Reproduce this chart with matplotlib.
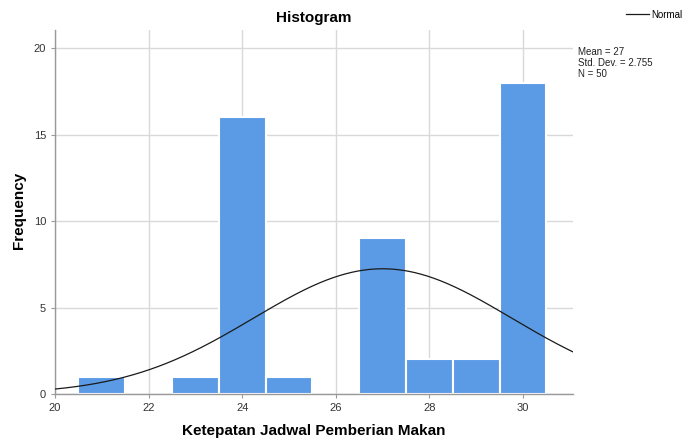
import numpy as np
import matplotlib
matplotlib.use("Agg")
import matplotlib.pyplot as plt

# Data
bin_centers = [21, 23, 24, 25, 27, 28, 29, 30]
frequencies = [1, 1, 16, 1, 9, 2, 2, 18]
mean_val = 27
std_val = 2.755
n_val = 50
x_ticks = [20, 22, 24, 26, 28, 30]
y_ticks = [0, 5, 10, 15, 20]

plt.rcParams['font.family'] = ['Liberation Sans', 'DejaVu Sans']

fig = plt.figure(figsize=(6.88, 4.44), dpi=100)
ax = fig.add_axes([0.080, 0.1126, 0.753, 0.820])

ax.bar(bin_centers, frequencies, width=1.0, color='#5b9be5', edgecolor='white',
       linewidth=1.5, zorder=2)

xs = np.linspace(20, 31.07, 400)
pdf = n_val * 1.0 / (std_val * np.sqrt(2 * np.pi)) * np.exp(-0.5 * ((xs - mean_val) / std_val) ** 2)
line, = ax.plot(xs, pdf, color='#1a1a1a', linewidth=0.9, zorder=3)

ax.set_xlim(20, 31.07)
ax.set_ylim(0, 21.05)
ax.set_xticks(x_ticks)
ax.set_yticks(y_ticks)
ax.grid(True, color='#d9d9d9', linewidth=1.0, zorder=0)
ax.set_axisbelow(True)
for s in ['top', 'right']:
    ax.spines[s].set_visible(False)
for s in ['left', 'bottom']:
    ax.spines[s].set_color('#999999')
    ax.spines[s].set_linewidth(1.0)
ax.tick_params(axis='both', labelsize=8, colors='#999999', labelcolor='#333333', length=3)

ax.set_xlabel('Ketepatan Jadwal Pemberian Makan', fontsize=11, fontweight='bold')
ax.set_ylabel('Frequency', fontsize=11, fontweight='bold')
ax.xaxis.set_label_coords(0.5, -0.083)
ax.yaxis.set_label_coords(-0.056, 0.505)
ax.set_title('Histogram', fontsize=11, fontweight='bold', pad=6)

# Legend
fig.legend([line], ['Normal'], loc='upper right', bbox_to_anchor=(1.005, 0.998),
           frameon=False, fontsize=7, handlelength=2.3, handletextpad=0.3)

fig.text(578 / 688, 1 - 47 / 444, 'Mean = %g\nStd. Dev. = %.3f\nN = %d' % (mean_val, std_val, n_val),
         fontsize=7, va='top', ha='left', linespacing=1.1, color='#222222')

fig.savefig('out.png', dpi=100)
